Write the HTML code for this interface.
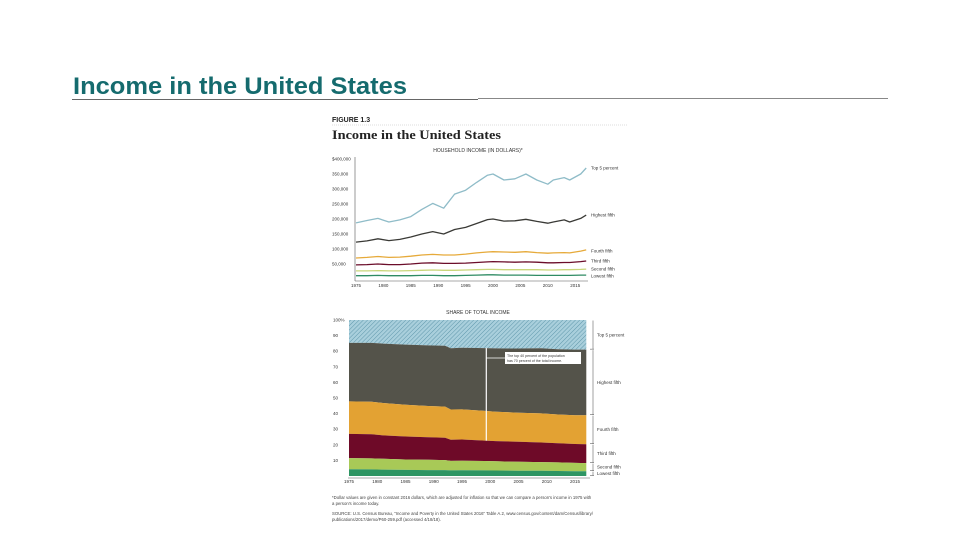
<!DOCTYPE html>
<html><head><meta charset="utf-8"><style>
html,body{margin:0;padding:0;background:#fff;}
svg{display:block;font-family:"Liberation Sans",sans-serif;}
</style></head><body>
<svg id="s" width="960" height="540" viewBox="0 0 960 540">
<defs>
<pattern id="hatch" width="3" height="3" patternUnits="userSpaceOnUse" patternTransform="rotate(45)">
<rect width="3" height="3" fill="#a9cfdc"/><line x1="0" y1="0" x2="0" y2="3" stroke="#5f97ab" stroke-width="1"/>
</pattern>
</defs>
<text x="73" y="94" font-size="24" font-weight="bold" fill="#156b6e" textLength="334" lengthAdjust="spacingAndGlyphs">Income in the United States</text>
<line x1="72" y1="99.5" x2="478" y2="99.5" stroke="#666" stroke-width="1"/>
<line x1="478" y1="98.5" x2="888" y2="98.5" stroke="#888" stroke-width="1"/>
<text x="332" y="122" font-size="7" font-weight="bold" fill="#222">FIGURE 1.3</text>
<line x1="332" y1="125" x2="628" y2="125" stroke="#bbb" stroke-width="0.6" stroke-dasharray="1,1"/>
<text x="332" y="139" font-size="12.5" font-weight="bold" fill="#222" font-family="Liberation Serif,serif" textLength="169" lengthAdjust="spacingAndGlyphs">Income in the United States</text>
<text x="478" y="152" font-size="5" fill="#333" text-anchor="middle">HOUSEHOLD INCOME (IN DOLLARS)*</text>
<g id="top"></g>
<text x="478" y="314" font-size="5" fill="#333" text-anchor="middle">SHARE OF TOTAL INCOME</text>
<g id="bot"></g>
<text x="332" y="499" font-size="4.3" fill="#444">*Dollar values are given in constant 2016 dollars, which are adjusted for inflation so that we can compare a person's income in 1975 with</text>
<text x="332" y="505" font-size="4.3" fill="#444">a person's income today.</text>
<text x="332" y="515" font-size="4.3" fill="#444">SOURCE: U.S. Census Bureau, "Income and Poverty in the United States 2016" Table A.2, www.census.gov/content/dam/Census/library/</text>
<text x="332" y="521" font-size="4.3" fill="#444">publications/2017/demo/P60-259.pdf (accessed 4/18/18).</text>
</svg>
<script>
// ---- top chart data (thousands of dollars) ----
const years = [1975,1977,1979,1981,1983,1985,1987,1989,1991,1993,1995,1997,1999,2000,2002,2004,2006,2008,2010,2011,2013,2014,2016,2017];
const top5 = [187,195,202,190,197,208,232,252,236,283,296,322,346,350,330,334,350,330,316,330,338,330,350,370];
const highest = [123,127,134,128,132,140,150,158,150,165,172,185,198,200,193,194,199,192,186,190,197,190,202,213];
const fourth = [70,72,75,72,73,76,80,82,80,80,83,87,90,91,90,89,91,88,86,87,88,87,93,97];
const third = [47,48,50,48,48,50,53,54,52,52,53,55,57,58,57,56,57,56,54,54,55,55,58,60];
const second = [27,27,28,27,27,28,29,30,29,29,30,31,32,32,31,31,31,31,30,30,31,31,32,33];
const lowest = [11,11,12,11,11,11,12,12,11,11,12,13,14,14,13,13,13,12,12,12,12,12,13,13];
const topTicks = ["$400,000","350,000","300,000","250,000","200,000","150,000","100,000","50,000"];
const tickVals = [400,350,300,250,200,150,100,50];
const xTickYears = [1975,1980,1985,1990,1995,2000,2005,2010,2015];
// ---- bottom chart data (cumulative share, %) ----
const shareYears = [1975,1979,1981,1985,1989,1992,1993,1995,1999,2001,2005,2009,2012,2015,2017];
const cumLowest = [4.3,4.2,4.1,3.9,3.8,3.8,3.6,3.7,3.6,3.5,3.4,3.4,3.2,3.1,3.1];
const cumSecond = [11.5,11.3,11.0,10.6,10.4,10.2,9.7,9.8,9.6,9.4,9.1,8.9,8.7,8.4,8.3];
const cumThird = [27,26.7,26,25.3,24.8,24.5,23.2,23.4,22.7,22.4,21.9,21.5,21.0,20.5,20.4];
const cumFourth = [47.8,47.6,46.8,45.7,44.9,44.5,42.6,42.7,41.7,41.2,40.6,40.1,39.4,39.0,39.0];
const cumHighest = [85.3,85.3,84.9,84.2,83.7,83.5,81.9,82.2,82.0,81.8,81.7,81.9,81.3,81.0,81.0];
const shareTicks = ["100%","90","80","70","60","50","40","30","20","10"];
const shareTickVals = [100,90,80,70,60,50,40,30,20,10];

const NS="http://www.w3.org/2000/svg";
function mk(tag,attrs,parent){const e=document.createElementNS(NS,tag);for(const k in attrs)e.setAttribute(k,attrs[k]);parent.appendChild(e);return e;}
const tx=y=>356+(y-1975)*5.48;
const ty=v=>279-v*0.3;
const topG=document.getElementById('top');
tickVals.forEach((v,i)=>{
  const t=mk('text',{x:332,y:ty(v)+1.5,'font-size':4.5,fill:'#333'},topG);t.textContent=topTicks[i];
  
  
});
mk('line',{x1:355,y1:157,x2:355,y2:281,stroke:'#555','stroke-width':0.6},topG);
mk('line',{x1:355,y1:281,x2:588,y2:281,stroke:'#555','stroke-width':0.6},topG);
xTickYears.forEach(y=>{
  const t=mk('text',{x:tx(y),y:287,'font-size':4.5,fill:'#333','text-anchor':'middle'},topG);t.textContent=y;
  
  
});
const series=[[top5,'#8fbcc8','Top 5 percent'],[highest,'#3a3a36','Highest fifth'],[fourth,'#e6aa3a','Fourth fifth'],[third,'#6b0d2a','Third fifth'],[second,'#c9d67a','Second fifth'],[lowest,'#2e8b63','Lowest fifth']];
series.forEach(([arr,c,name],si)=>{
  const d=arr.map((v,i)=>(i?'L':'M')+tx(years[i]).toFixed(1)+','+ty(v).toFixed(1)).join('');
  const p=mk('path',{d:d,fill:'none',stroke:c,'stroke-width':1.3,'stroke-linejoin':'round'},topG);
  
  
  const ly=[168,215,251,261,269,276][si];
  const t=mk('text',{x:591,y:ly+1.5,'font-size':4.5,fill:'#333'},topG);t.textContent=name;
  
  
});
const bx=y=>349+(y-1975)*5.65;
const by=v=>476-v*1.56;
const botG=document.getElementById('bot');
function area(lo,hi,fill,name){
  let d='';
  hi.forEach((v,i)=>{d+=(i?'L':'M')+bx(shareYears[i]).toFixed(1)+','+by(v).toFixed(1);});
  for(let i=lo.length-1;i>=0;i--)d+='L'+bx(shareYears[i]).toFixed(1)+','+by(lo[i]).toFixed(1);
  const p=mk('path',{d:d+'Z',fill:fill},botG);
  
  
}
const zeros=shareYears.map(()=>0), hundred=shareYears.map(()=>100);
area(cumHighest,hundred,'url(#hatch)','top-5-percent');
area(cumFourth,cumHighest,'#54534a','highest-fifth');
area(cumThird,cumFourth,'#e3a233','fourth-fifth');
area(cumSecond,cumThird,'#6e0a28','third-fifth');
area(cumLowest,cumSecond,'#a8c957','second-fifth');
area(zeros,cumLowest,'#2e9563','lowest-fifth');
shareTickVals.forEach((v,i)=>{
  const t=mk('text',{x:333,y:by(v)+1.5,'font-size':4.5,fill:'#333'},botG);t.textContent=shareTicks[i];
  
  
});
xTickYears.forEach(y=>{
  const t=mk('text',{x:bx(y),y:483,'font-size':4.5,fill:'#333','text-anchor':'middle'},botG);t.textContent=y;
  
  
});
mk('line',{x1:348,y1:478,x2:590,y2:478,stroke:'#555','stroke-width':0.5},botG);
mk('line',{x1:bx(1999.3),y1:by(cumHighest[8]),x2:bx(1999.3),y2:by(cumThird[8]),stroke:'#fff','stroke-width':1.2},botG);
mk('line',{x1:bx(1999.3),y1:358,x2:505,y2:358,stroke:'#fff','stroke-width':0.8},botG);
mk('rect',{x:505,y:352,width:76,height:12,fill:'#fff'},botG);
const a1=mk('text',{x:507,y:357,'font-size':3.6,fill:'#333'},botG);a1.textContent='The top 40 percent of the population';
const a2=mk('text',{x:507,y:362,'font-size':3.6,fill:'#333'},botG);a2.textContent='has 70 percent of the total income.';


const labels=[[100,cumHighest,'Top 5 percent'],[cumHighest,cumFourth,'Highest fifth'],[cumFourth,cumThird,'Fourth fifth'],[cumThird,cumSecond,'Third fifth'],[cumSecond,cumLowest,'Second fifth'],[cumLowest,0,'Lowest fifth']];
labels.forEach(([h,l,name])=>{
  const n=shareYears.length-1;
  const hv=typeof h==='number'?h:h[n], lv=typeof l==='number'?l:l[n];
  mk('line',{x1:593,y1:by(hv)+0.5,x2:593,y2:by(lv)-0.5,stroke:'#444','stroke-width':0.5},botG);
  mk('line',{x1:590,y1:by(lv)-0.5,x2:594,y2:by(lv)-0.5,stroke:'#444','stroke-width':0.5},botG);
  const t=mk('text',{x:597,y:by((hv+lv)/2)+1.5,'font-size':4.5,fill:'#333'},botG);t.textContent=name;
  
  
});
</script>
</body></html>
